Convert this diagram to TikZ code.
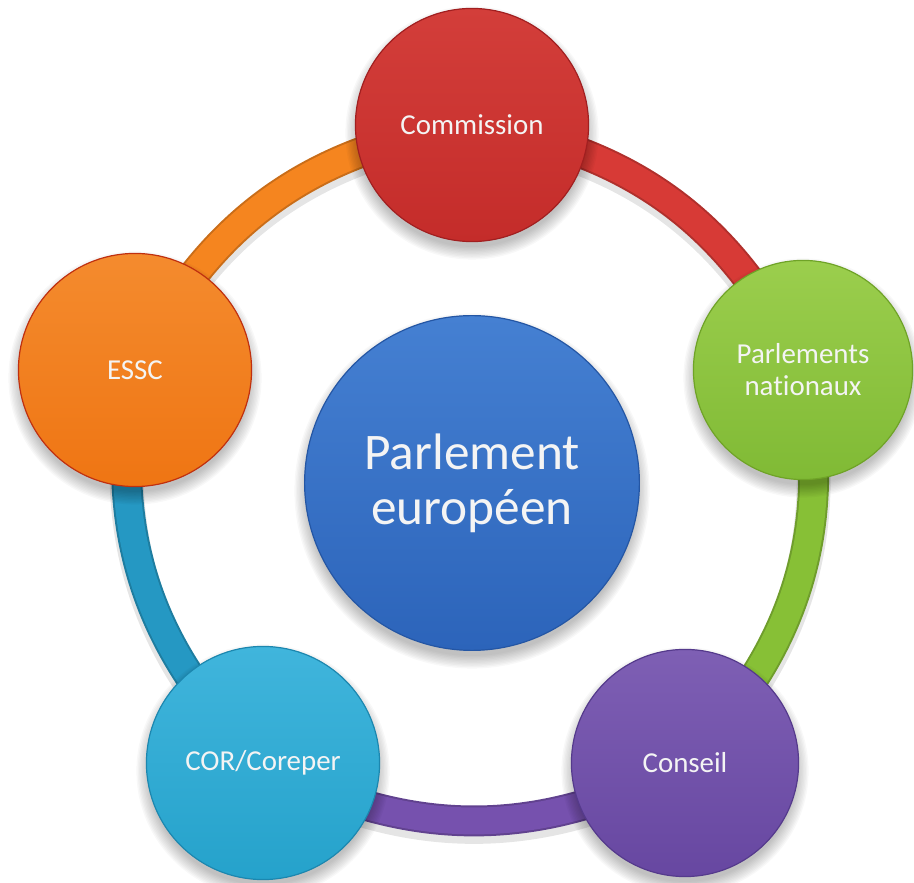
\documentclass[tikz,border=0pt]{standalone}
\usepackage{fontspec}
\setmainfont{Carlito}[Ligatures=CommonOff]
\usetikzlibrary{backgrounds}
\definecolor{redtop}{HTML}{D33E3A}
\definecolor{redbot}{HTML}{C42C2A}
\definecolor{redrim}{HTML}{A11F20}
\definecolor{redarc}{HTML}{D73A36}
\definecolor{grntop}{HTML}{9BCE4D}
\definecolor{grnbot}{HTML}{80BA35}
\definecolor{grnrim}{HTML}{6FA327}
\definecolor{grnarc}{HTML}{87C036}
\definecolor{purtop}{HTML}{7E5FB4}
\definecolor{purbot}{HTML}{6747A1}
\definecolor{purrim}{HTML}{553A8C}
\definecolor{purarc}{HTML}{7651AE}
\definecolor{teltop}{HTML}{40B5DC}
\definecolor{telbot}{HTML}{25A2CB}
\definecolor{telrim}{HTML}{1C87AF}
\definecolor{telarc}{HTML}{2598C3}
\definecolor{orgtop}{HTML}{F48B2E}
\definecolor{orgbot}{HTML}{EF7513}
\definecolor{orgrim}{HTML}{C0300F}
\definecolor{orgarc}{HTML}{F5851F}
\definecolor{blutop}{HTML}{4580D2}
\definecolor{blubot}{HTML}{2C64BA}
\definecolor{blurim}{HTML}{2456A4}
\definecolor{txtcol}{HTML}{F4F4F4}
\tikzset{
  bubble/.style={circle, inner sep=0pt, align=center, text=txtcol,
    line width=1.2pt, font=\fontsize{29}{32}\selectfont},
  bigbubble/.style={bubble, font=\fontsize{51.5}{55}\selectfont},
  arcshadow/.style={line width=34, black, opacity=0.10},
}
\begin{document}
\begin{tikzpicture}[x=1bp,y=1bp]
\useasboundingbox (0,0) rectangle (914,883);

\node[bubble, minimum size=234, top color=redtop, bottom color=redbot, draw=redrim] (com) at (472,758) {Commission};
\node[bubble, minimum size=220, top color=grntop, bottom color=grnbot, draw=grnrim] (pn) at (803,513) {Parlements\\nationaux};
\node[bubble, minimum size=228, top color=purtop, bottom color=purbot, draw=purrim] (cons) at (685,120) {Conseil};
\node[bubble, minimum size=234, top color=teltop, bottom color=telbot, draw=telrim] (cor) at (263,120) {COR/Coreper};
\node[bubble, minimum size=234, top color=orgtop, bottom color=orgbot, draw=orgrim] (essc) at (135,513) {ESSC};
\node[bigbubble, minimum size=336, top color=blutop, bottom color=blubot, draw=blurim] (pe) at (472,400) {Parlement\\européen};

\begin{pgfonlayer}{background}
  % connector ring
  \foreach \a/\b/\c in {com/pn/redarc, pn/cons/grnarc, cons/cor/purarc, cor/essc/telarc, essc/com/orgarc}{
    \draw[arcshadow] ([yshift=-6]\a.center) to[bend left=28] ([yshift=-6]\b.center);
    \draw[line width=31, \c!82!black] (\a.center) to[bend left=28] (\b.center);
    \draw[line width=27, \c] (\a.center) to[bend left=28] (\b.center);
  }
  % soft shadows of the circles
  \foreach \n/\r in {com/117, pn/110, cons/114, cor/117, essc/117, pe/168}{
    \foreach \k in {0,...,9}{
      \fill[black, opacity=0.028] ([yshift=-8]\n.center) circle ({\r-3+1.4*\k});
    }
  }
\end{pgfonlayer}
\end{tikzpicture}
\end{document}
